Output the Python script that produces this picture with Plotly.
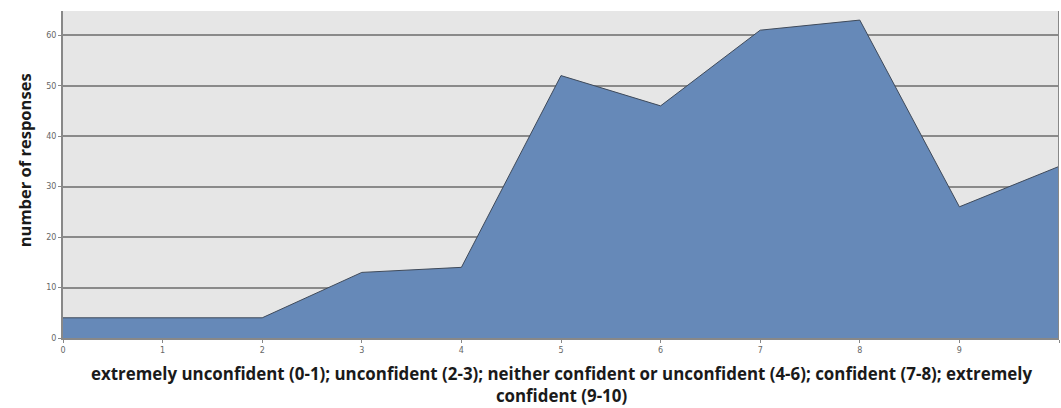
import plotly.graph_objects as go

scores = [0, 1, 2, 3, 4, 5, 6, 7, 8, 9, 10]
responses = [4, 4, 4, 13, 14, 52, 46, 61, 63, 26, 34]
y_ticks = [0, 10, 20, 30, 40, 50, 60]
x_title_1 = "extremely unconfident (0-1); unconfident (2-3); neither confident or unconfident (4-6); confident (7-8); extremely"
x_title_2 = "confident (9-10)"
y_title = "number of responses"

X_FONT = dict(size=16.9, family="Open Sans", color="#1a1a1a")
Y_FONT = dict(size=16.5, family="Open Sans", color="#1a1a1a")

fig = go.Figure()
fig.add_trace(go.Scatter(
    x=scores, y=responses, mode="lines", fill="tozeroy",
    fillcolor="#6689b8", line=dict(color="#3f4a5a", width=1),
    hoverinfo="x+y",
))

fig.update_layout(
    width=1061, height=408,
    margin=dict(l=63, r=2, t=11, b=70),
    paper_bgcolor="white", plot_bgcolor="#e6e6e6",
    showlegend=False,
    font=dict(family="Open Sans", color="#222"),
    xaxis=dict(
        range=[0, 10], tickvals=scores, ticktext=[str(s) for s in scores],
        showgrid=False, zeroline=False,
        showline=True, linecolor="#888", linewidth=2,
        ticks="outside", ticklen=3, tickcolor="#888",
        tickfont=dict(size=8, color="#666", family="DejaVu Sans"),
    ),
    yaxis=dict(
        range=[0, 64.8], tickvals=y_ticks,
        showgrid=True, gridcolor="#8a8a8a", gridwidth=2,
        zeroline=False,
        showline=True, linecolor="#888", linewidth=2,
        ticks="outside", ticklen=3, tickcolor="#888",
        tickfont=dict(size=8, color="#666", family="DejaVu Sans"),
    ),
    annotations=[
        dict(text="<b>" + x_title_1 + "</b><br><b>" + x_title_2 + "</b>",
             xref="paper", yref="paper", x=0.5, y=-0.142,
             xanchor="center", yanchor="middle", showarrow=False,
             align="center", font=X_FONT, borderpad=0),
        dict(text="<b>" + y_title + "</b>",
             xref="paper", yref="paper", x=-0.039, y=0.544,
             xanchor="center", yanchor="middle", showarrow=False,
             textangle=-90, font=Y_FONT),
    ],
)
fig.add_shape(type="line", xref="x", yref="paper", x0=10, x1=10, y0=0, y1=1,
              line=dict(color="#888", width=2))

fig.write_html("out.html", config={"displayModeBar": False},
               post_script="document.body.style.margin='0';")
